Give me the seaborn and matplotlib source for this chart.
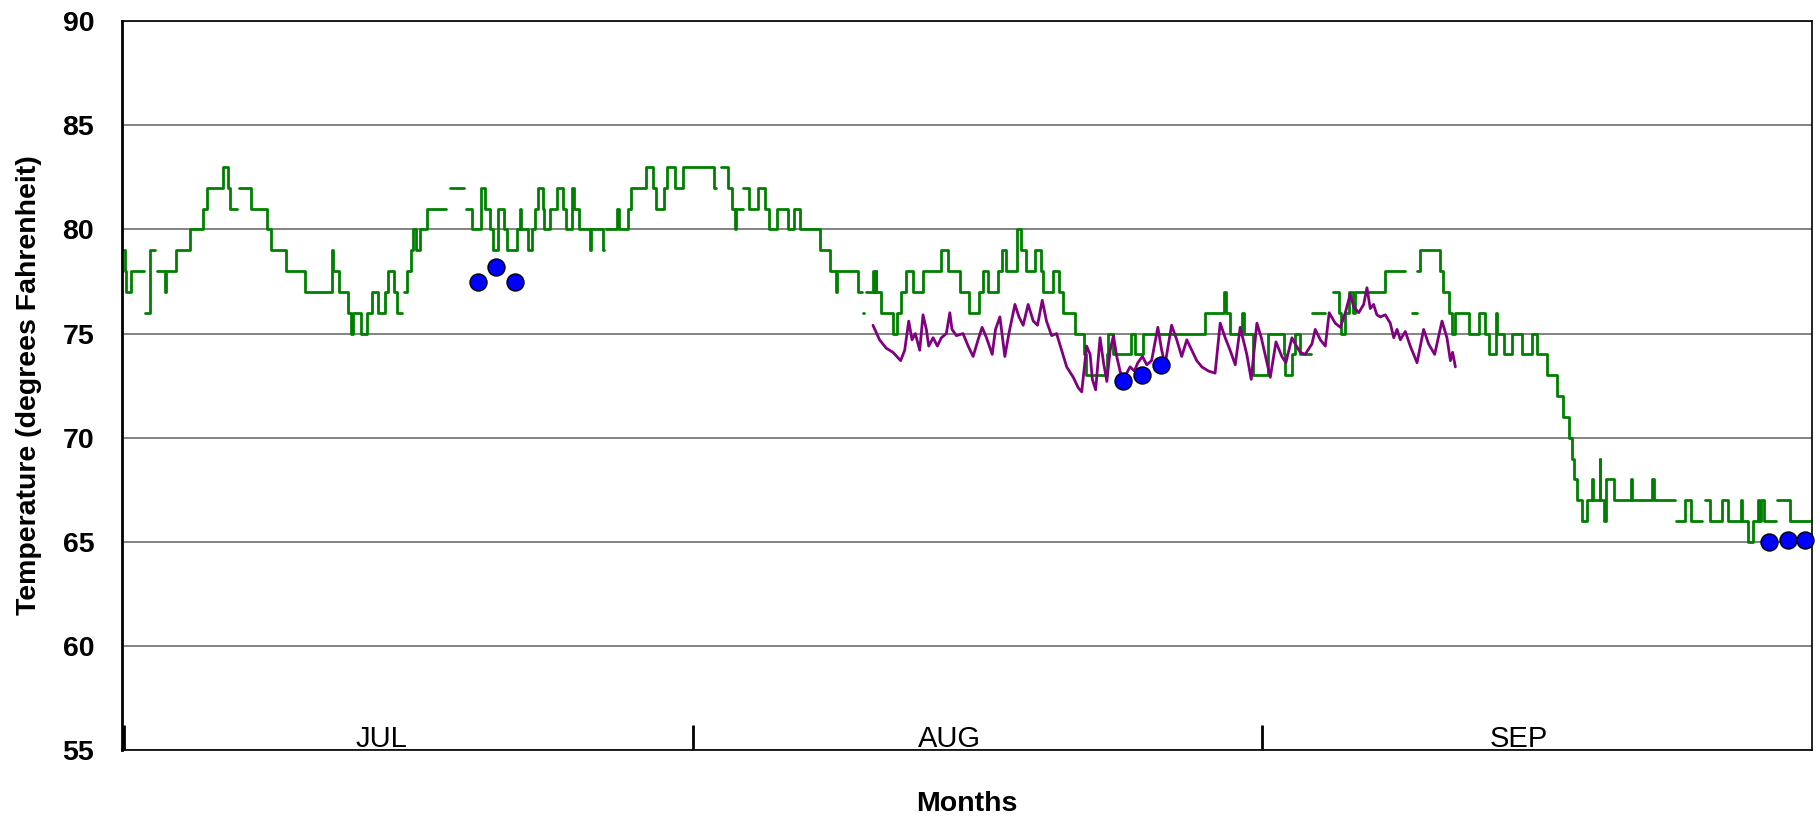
import numpy as np
import pandas as pd
import seaborn as sns
import matplotlib
matplotlib.use("Agg")
import matplotlib.pyplot as plt

N = np.nan

# green record, step values: day since Jul 1 -> degF, nan marks end of a run
green_day = [
    0.0, 0.05, 0.1, 0.35, 1.09,
    1.15, 1.4, 1.69,
    1.78, 2.2, 2.28, 2.84, 3.57, 4.29, 4.51, 5.38, 5.65, 5.75, 6.13,
    6.23, 6.88, 7.8, 8.0, 8.8, 9.83, 11.3, 11.37, 11.7, 12.2,
    12.33, 12.48, 12.9, 13.23, 13.5, 13.85, 14.2, 14.35, 14.7, 14.85, 15.12,
    15.25, 15.43, 15.61, 15.75, 15.88, 16.1, 16.5, 17.56,
    17.73, 18.51,
    18.61, 18.96, 19.45, 19.65, 19.94, 20.08, 20.37, 20.68, 20.87, 21.4,
    21.55, 21.62, 22.0, 22.22, 22.4, 22.57, 22.8, 22.9, 23.21, 23.6,
    23.93, 24.1, 24.42, 24.5, 24.81, 25.38, 25.45, 26.1, 26.16,
    26.25, 26.85, 26.98, 27.43, 27.62, 28.44, 28.8, 29.0, 29.44, 29.6, 30.0, 30.44, 32.17, 32.26,
    32.5, 32.9, 33.12, 33.28, 33.32, 33.72,
    33.75, 34.08, 34.53, 34.93, 35.17, 35.59, 36.17, 36.5, 36.85, 37.95, 38.45, 38.8, 38.85, 40.0, 40.2,
    40.25, 40.32,
    40.45, 40.8, 40.87, 40.95, 41.0, 41.26, 41.9, 42.13, 42.36, 42.63,
    42.99, 43.54, 44.54, 44.9, 45.54, 46.03, 46.6, 46.82, 47.09, 47.63,
    47.82, 48.09, 48.64, 48.87, 49.18, 49.64, 49.96, 50.09, 50.64, 50.94,
    51.18, 51.82, 52.3, 52.45, 53.55, 53.64, 53.9, 54.9, 55.1, 55.55,
    58.91, 59.95, 60.05, 60.28, 60.95, 61.05, 61.55, 62.37, 63.2, 63.28,
    63.65, 63.83, 64.1, 64.7,
    64.74, 65.47,
    65.9, 66.2, 66.35, 66.56, 66.74, 67.0, 67.1, 68.74, 69.83,
    70.2, 70.45,
    70.47, 70.65, 71.74, 71.87, 72.2, 72.38, 72.53, 73.29, 73.84, 74.2,
    74.4, 74.76, 74.85, 75.2, 75.66, 76.2, 76.75, 77.0, 77.56, 78.1,
    78.4, 78.75, 78.9, 79.0, 79.2, 79.48, 79.75, 80.0, 80.06, 80.42,
    80.46, 80.67, 80.76, 81.21, 82.12, 82.2, 83.3, 83.4, 84.55,
    84.58, 85.1, 85.4, 86.0,
    86.16, 86.43, 87.1, 87.4, 88.12, 88.2, 88.5, 88.76, 89.03, 89.1, 89.2, 89.4, 90.03,
    90.07, 90.8, 92.3,
]
green_temp = [
    79, 78, 77, 78, N,
    76, 79, N,
    78, 77, 78, 79, 80, 81, 82, 83, 82, 81, N,
    82, 81, 80, 79, 78, 77, 79, 78, 77, 76,
    75, 76, 75, 76, 77, 76, 77, 78, 77, 76, N,
    77, 78, 79, 80, 79, 80, 81, N,
    82, N,
    81, 80, 82, 81, 80, 79, 81, 80, 79, 80,
    81, 80, 79, 80, 81, 82, 81, 80, 81, 82,
    81, 80, 82, 81, 80, 79, 80, 79, N,
    80, 81, 80, 81, 82, 83, 82, 81, 82, 83, 82, 83, 82, N,
    83, 82, 81, 80, 81, N,
    82, 81, 82, 81, 80, 81, 80, 81, 80, 79, 78, 77, 78, 77, N,
    76, N,
    77, 78, 77, 78, 77, 76, 75, 76, 77, 78,
    77, 78, 79, 78, 77, 76, 77, 78, 77, 78,
    79, 78, 80, 79, 78, 79, 78, 77, 78, 77,
    76, 75, 74, 73, 74, 75, 74, 75, 74, 75,
    76, 77, 76, 75, 76, 75, 73, 75, 74, 73,
    74, 75, 74, N,
    76, N,
    77, 76, 75, 76, 77, 76, 77, 78, N,
    76, N,
    78, 79, 78, 77, 76, 75, 76, 75, 76, 75,
    74, 76, 75, 74, 75, 74, 75, 74, 73, 72,
    71, 70, 69, 68, 67, 66, 67, 68, 67, 69,
    67, 66, 68, 67, 68, 67, 68, 67, N,
    66, 67, 66, N,
    67, 66, 67, 66, 67, 66, 65, 66, 67, 66, 67, 66, N,
    67, 66, N,
]

# purple record (finer readings, Aug 10 - Sep 11)
purple_day = [
    40.81, 41.17, 41.53, 41.9, 42.32, 42.54, 42.76, 42.94, 43.12, 43.36,
    43.54, 43.72, 43.85, 44.09, 44.32, 44.54, 44.81, 45.0, 45.12, 45.36,
    45.72, 46.0, 46.27, 46.54, 46.76, 47.0, 47.31, 47.49, 47.73, 48.0,
    48.22, 48.55, 48.77, 49.0, 49.27, 49.55, 49.78, 50.04, 50.27, 50.55,
    50.82, 51.06, 51.37, 51.73, 52.0, 52.19, 52.46, 52.65, 52.77, 52.95,
    53.19, 53.38, 53.56, 53.74, 53.92, 54.1, 54.28, 54.46, 54.64, 54.83,
    55.06, 55.25, 55.5, 55.74, 56.0, 56.34, 56.55, 56.73, 57.09, 57.37,
    57.64, 57.92, 58.19, 58.46, 58.74, 59.1, 59.46, 59.74, 60.01, 60.28,
    60.56, 60.83, 61.19, 61.43, 61.74, 61.98, 62.29, 62.47, 62.78, 63.1,
    63.32, 63.65, 63.83, 64.1, 64.37, 64.74, 64.92, 65.2, 65.47, 65.68,
    66.01, 66.29, 66.56, 66.83, 67.01, 67.29, 67.56, 67.74, 67.92, 68.1,
    68.28, 68.47, 68.74, 69.01, 69.2, 69.38, 69.56, 69.83, 70.1, 70.47,
    70.83, 71.1, 71.43, 71.83, 72.1, 72.29, 72.41, 72.56,
]
purple_temp = [
    75.4, 74.7, 74.3, 74.1, 73.7, 74.2, 75.6, 74.7, 75.0, 74.2,
    75.9, 75.2, 74.4, 74.8, 74.4, 74.8, 75.0, 76.0, 75.2, 74.9,
    75.0, 74.4, 73.9, 74.7, 75.3, 74.8, 74.0, 75.2, 75.8, 73.9,
    75.0, 76.4, 75.8, 75.4, 76.4, 75.6, 75.4, 76.6, 75.6, 74.9,
    75.0, 74.3, 73.4, 72.9, 72.4, 72.2, 74.4, 74.0, 72.8, 72.3,
    74.8, 73.6, 72.7, 74.2, 74.9, 73.9, 73.2, 72.7, 73.1, 73.4,
    73.2, 73.6, 73.9, 73.5, 73.7, 75.3, 74.2, 73.5, 75.4, 74.7,
    73.9, 74.7, 74.2, 73.7, 73.4, 73.2, 73.1, 75.5, 74.8, 74.2,
    73.5, 75.3, 74.0, 72.8, 75.5, 74.8, 73.6, 72.9, 74.6, 73.9,
    73.6, 74.8, 74.5, 74.1, 74.0, 74.5, 75.2, 74.7, 74.4, 76.0,
    75.5, 75.3, 76.0, 76.9, 76.3, 76.0, 76.4, 77.2, 76.2, 76.4,
    75.9, 75.8, 75.9, 75.5, 74.8, 75.2, 74.7, 75.1, 74.4, 73.6,
    75.2, 74.5, 74.0, 75.6, 74.8, 73.7, 74.1, 73.4,
]

# blue point readings
dot_day = [19.26, 20.27, 21.3, 54.46, 55.46, 56.51, 89.63, 90.67, 91.6]
dot_temp = [77.5, 78.2, 77.5, 72.7, 73.0, 73.5, 65.0, 65.1, 65.1]

month_starts = [0, 31, 62]
month_label_days = [14, 45, 76]
month_labels = ["JUL", "AUG", "SEP"]

# split the green record into runs (gaps between them)
rows = []
run = 0
last = None
for d, t in zip(green_day, green_temp):
    if np.isnan(t):
        rows.append((d, last, run))
        run += 1
    else:
        rows.append((d, t, run))
        last = t
green = pd.DataFrame(rows, columns=["day", "temp", "run"])
purple = pd.DataFrame({"day": purple_day, "temp": purple_temp})
dots = pd.DataFrame({"day": dot_day, "temp": dot_temp})

sns.set_style("white")
plt.rcParams["font.family"] = ["Liberation Sans", "DejaVu Sans"]
plt.rcParams["text.color"] = "black"
plt.rcParams["axes.labelcolor"] = "black"
plt.rcParams["xtick.color"] = "black"
plt.rcParams["ytick.color"] = "black"

fig = plt.figure(figsize=(18.2, 8.17), dpi=100)
ax = fig.add_axes([0.067, 0.082, 0.9286, 0.892])

sns.lineplot(data=green, x="day", y="temp", units="run", estimator=None,
             color="green", lw=2.0, drawstyle="steps-post", ax=ax, legend=False)
sns.lineplot(data=purple, x="day", y="temp", color="purple", lw=2.0, ax=ax)
sns.scatterplot(data=dots, x="day", y="temp", color="blue", edgecolor="black",
                s=150, linewidth=1, zorder=5, clip_on=False, ax=ax)

ax.set_xlim(-0.13, 92.0)
ax.set_ylim(55, 90)
ax.set_yticks(range(55, 91, 5))
ax.yaxis.grid(True, color="#6e6e6e", lw=1.2)
ax.set_axisbelow(True)

ax.set_xticks(month_starts)
ax.set_xticklabels([])
ax.set_xticks(month_label_days, minor=True)
ax.set_xticklabels(month_labels, minor=True)
ax.tick_params(axis="x", which="major", bottom=True, direction="in",
               length=18, width=2, color="black")
ax.tick_params(axis="x", which="minor", bottom=True, length=0, pad=-18,
               labelsize=21, labelcolor="black")
ax.tick_params(axis="y", left=True, length=0, pad=20, labelsize=20.5, labelcolor="black")
for lab in ax.get_yticklabels():
    lab.set_fontweight("bold")

for name, sp in ax.spines.items():
    sp.set_color("black")
    sp.set_linewidth(1.2)
ax.spines["left"].set_linewidth(2)

ax.set_xlabel("Months", fontsize=20.5, fontweight="bold", labelpad=26, color="black")
ax.set_ylabel("Temperature (degrees Fahrenheit)", fontsize=20.5, fontweight="bold",
              labelpad=15, color="black")

fig.savefig("out.png", dpi=100)
